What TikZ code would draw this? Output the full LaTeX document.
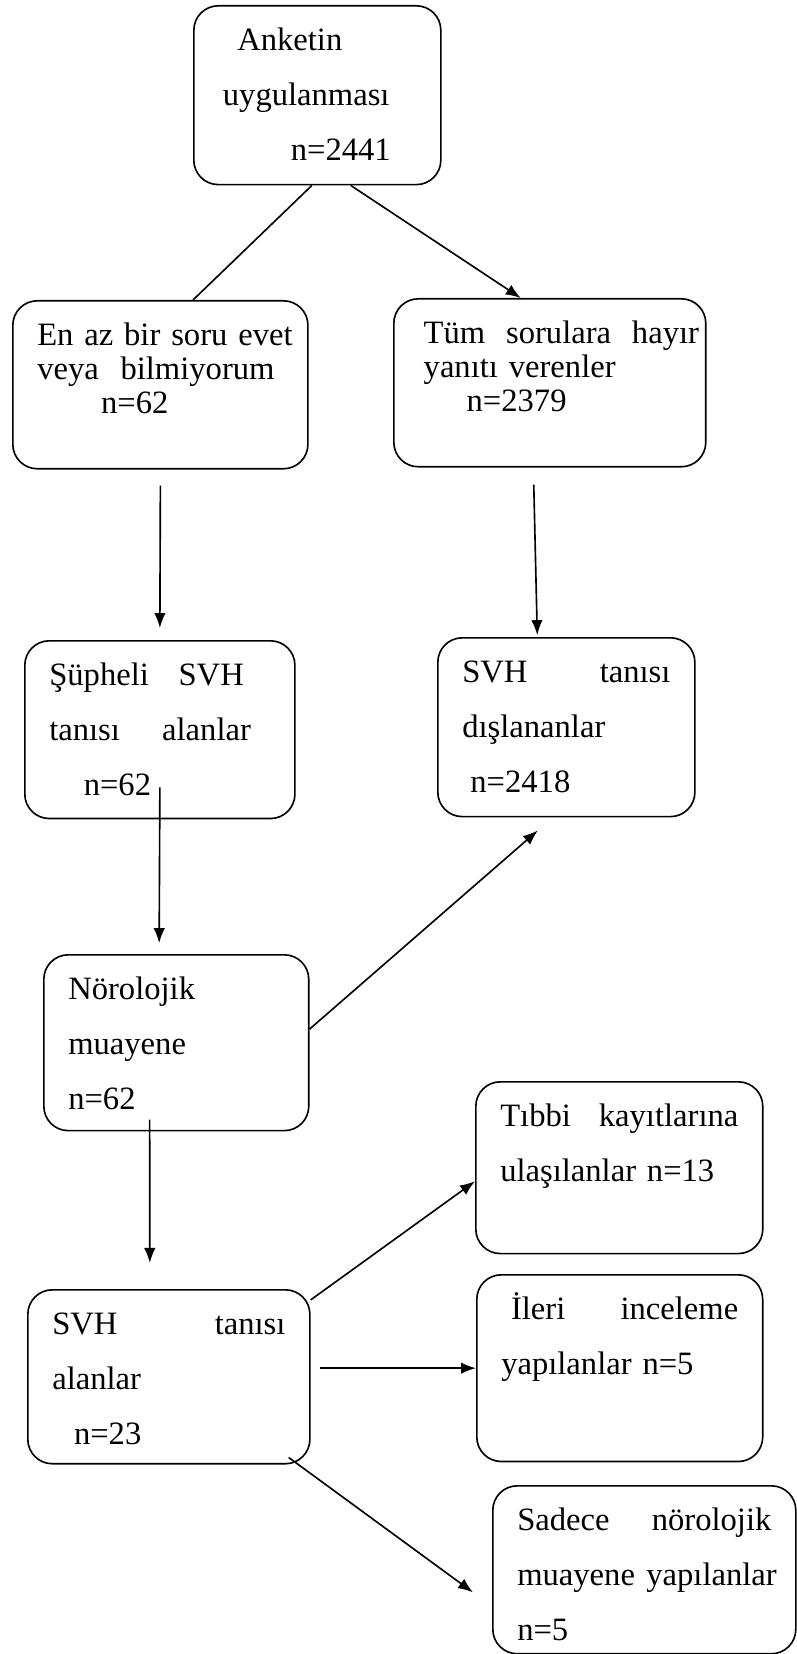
\documentclass[tikz,border=0pt]{standalone}
\usepackage{fontspec}
\setmainfont{Liberation Serif}
\usetikzlibrary{arrows.meta}
\tikzstyle{box} = [rectangle, rounded corners=9pt, draw=black, line width=0.6pt, anchor=north west, align=left, inner xsep=9pt, inner ysep=0pt, text height=16.5pt, font=\fontsize{12}{20.2}\selectfont]
\tikzstyle{tight} = [font=\fontsize{12}{12.5}\selectfont]
\tikzstyle{line} = [line width=0.6pt]
\tikzstyle{arrow} = [line width=0.6pt, ->, >={Latex[length=5.5pt,width=4.2pt]}]

\begin{document}
\begin{tikzpicture}[x=0.368pt, y=-0.368pt]
\useasboundingbox (0,0) rectangle (796,1654);

\node (anket) [box, text width=72.9pt, text depth=49.3pt] at (193,5) {\hspace*{7pt}Anketin\\ \hspace*{1.7pt}uygulanması\\ \hspace*{26.7pt}n=2441};
\node (evet) [box, tight, text width=90.6pt, text depth=45.3pt] at (12,300) {\makebox[\linewidth][l]{En az bir soru evet}\\ veya\ \ bilmiyorum\\ \hspace*{23.5pt}n=62};
\node (hayir) [box, tight, text width=96.8pt, text depth=45.3pt] at (393,298) {\hspace*{2pt}Tüm\hfill sorulara\hfill hayır\kern-6.5pt\\ \hspace*{2pt}yanıtı verenler\\ \hspace*{17.8pt}n=2379};
\node (supheli) [box, text width=81.4pt, text depth=48.9pt] at (24,640) {Şüpheli\hfill SVH\kern9.8pt\\ tanısı\hfill alanlar\kern7.2pt\\ \hspace*{12.7pt}n=62};
\node (dis) [box, text width=76.6pt, text depth=49.3pt] at (437,637) {SVH\hfill tanısı\\ dışlananlar\\ \hspace*{3pt}n=2418};
\node (noro) [box, text width=79.5pt, text depth=48.2pt] at (43,954) {Nörolojik\\ muayene\\ n=62};
\node (svh) [box, text width=85.8pt, text depth=47.5pt] at (27,1289) {SVH\hfill tanısı\\ alanlar\\ \hspace*{8pt}n=23};
\node (tibbi) [box, text width=87.6pt, text depth=46.7pt] at (475,1081) {Tıbbi\hfill kayıtlarına\\ ulaşılanlar n=13};
\node (ileri) [box, text width=87.2pt, text depth=52.2pt] at (476,1274) {\hspace*{3.6pt}İleri\hfill inceleme\\ yapılanlar n=5};
\node (sadece) [box, text width=93.5pt, text depth=45.3pt] at (492,1485) {Sadece\hfill nörolojik\\ muayene\hfill yapılanlar\kern-2pt\\ n=5};

\draw [line] ([xshift=-2pt]anket.south) -- (anket.south west |- evet.north);
\draw [arrow] ([xshift=12.3pt]anket.south) -- ([xshift=-10.7pt]hayir.north);
\draw [arrow] ([yshift=-5.9pt]evet.south) -- ([yshift=4.4pt]supheli.north);
\draw [arrow] ([xshift=-5.9pt,yshift=-6.3pt]hayir.south) -- ([xshift=-10.7pt,yshift=0.7pt]dis.north);
\draw [arrow] ([yshift=11.8pt]supheli.south) -- ([xshift=-6.3pt,yshift=4pt]noro.north);
\draw [arrow] ([yshift=5pt]noro.east) -- ([xshift=-10.5pt,yshift=-4.8pt]dis.south);
\draw [arrow] ([xshift=-9.8pt,yshift=4.4pt]noro.south) -- ([xshift=-7pt,yshift=9.6pt]svh.north);
\draw [arrow] ([yshift=-4pt]svh.north east) -- ([yshift=-5pt]tibbi.west);
\draw [arrow, shorten <=3.3pt] (ileri.west -| svh.east) -- (ileri.west);
\draw [arrow] ([xshift=-8.1pt,yshift=2.6pt]svh.south east) -- ([xshift=-7pt,yshift=-8.3pt]sadece.west);
\end{tikzpicture}
\end{document}
